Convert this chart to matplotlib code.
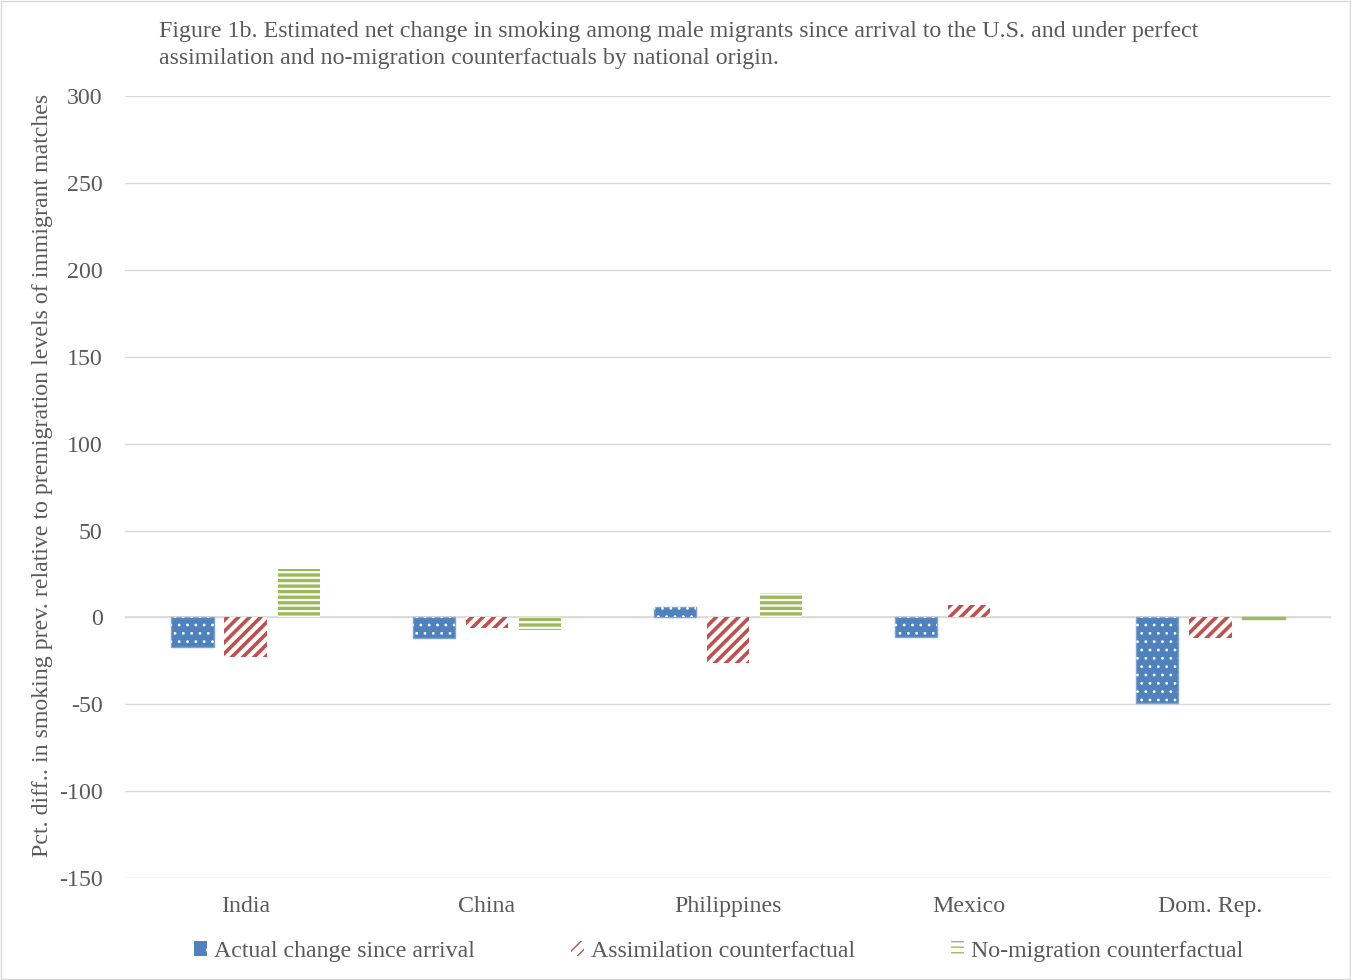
import matplotlib.pyplot as plt
import matplotlib.patches as mpatches
import numpy as np

plt.rcParams['font.family'] = ['Liberation Serif', 'DejaVu Serif']
plt.rcParams['axes.unicode_minus'] = False

countries = ['India', 'China', 'Philippines', 'Mexico', 'Dom. Rep.']
actual = [-17, -12, 6, -11.5, -49.5]
assimilation = [-22.5, -6, -26, 7, -12]
no_migration = [28, -7, 14, 0, -0.7]
series_names = ['Actual change since arrival', 'Assimilation counterfactual',
                'No-migration counterfactual']

blue = '#4F81BD'
red = '#C0504D'
green = '#9BBB59'
text_gray = '#595959'
fs = 17.2

fig = plt.figure(figsize=(13.51, 9.8), dpi=100)
ax = fig.add_axes([0.0925, 0.104, 0.8927, 0.798])

x = np.arange(len(countries))
w = 0.175
off = 0.22

# actual change: solid blue with small white dots
ax.bar(x - off, actual, w, color=blue, edgecolor='#7FA3D0', linewidth=1, zorder=3)
with plt.rc_context({'hatch.linewidth': 0.8}):
    ax.bar(x - off, actual, w, facecolor='none', edgecolor='white', hatch='..',
           linewidth=0, zorder=4)
# assimilation: red diagonal stripes
with plt.rc_context({'hatch.linewidth': 2.6}):
    ax.bar(x, assimilation, w, facecolor='white', edgecolor=red, hatch='///',
           linewidth=0, zorder=3)
# no-migration: green horizontal stripes (tiny nonzero bars get an outline so they stay visible)
with plt.rc_context({'hatch.linewidth': 2.4}):
    ax.bar(x + off, no_migration, w, facecolor='white', edgecolor=green, hatch='---',
           linewidth=[1.0 if 0 < abs(v) < 1 else 0 for v in no_migration], zorder=3)

ax.set_xlim(-0.5, 4.5)
ax.set_ylim(-150, 300)
ax.set_yticks(range(-150, 301, 50))
ax.set_xticks(x)
ax.set_xticklabels(countries)
ax.tick_params(axis='both', length=0, labelsize=fs, colors=text_gray)
ax.tick_params(axis='y', pad=16)
ax.tick_params(axis='x', pad=13)
ax.grid(axis='y', color='#D9D9D9', linewidth=1, zorder=0)
ax.axhline(0, color='#D9D9D9', linewidth=1.2, zorder=2)
for s in ax.spines.values():
    s.set_visible(False)

fig.text(0.0311, 0.515,
         'Pct. diff.. in smoking prev. relative to premigration levels of immigrant matches',
         rotation=90, ha='center', va='center', fontsize=fs, color=text_gray)

fig.text(0.118, 0.979,
         'Figure 1b. Estimated net change in smoking among male migrants since arrival to the U.S. and under perfect\n'
         'assimilation and no-migration counterfactuals by national origin.',
         ha='left', va='top', fontsize=fs, color=text_gray, linespacing=1.42)

handles = [
    mpatches.Patch(facecolor=blue, edgecolor='white', hatch='.', linewidth=0),
    mpatches.Patch(facecolor='white', edgecolor=red, hatch='///', linewidth=0),
    mpatches.Patch(facecolor='white', edgecolor=green, hatch='---', linewidth=0),
]
fig.legend(handles, series_names, loc='center', bbox_to_anchor=(0.532, 0.029),
           ncol=3, frameon=False, fontsize=fs, labelcolor=text_gray,
           handlelength=0.55, handleheight=0.55, handletextpad=0.3, columnspacing=4.0)

# thin border around the whole figure
fig.patches.append(mpatches.Rectangle((0.001, 0.001), 0.998, 0.998, transform=fig.transFigure,
                                      fill=False, edgecolor='#D9D9D9', linewidth=1))

fig.savefig('out.png', dpi=100)
